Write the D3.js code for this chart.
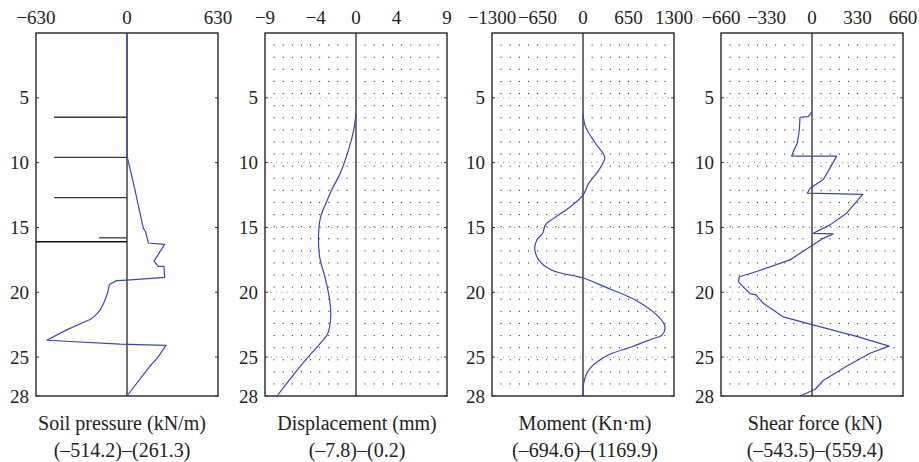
<!DOCTYPE html>
<html>
<head>
<meta charset="utf-8">
<script src="https://cdn.jsdelivr.net/npm/d3@7"></script>
<style>
  html, body { margin: 0; padding: 0; background: #fff; }
  svg { display: block; }
  text { font-family: "Liberation Serif", "DejaVu Serif", serif; fill: #222; }
</style>
</head>
<body>
<svg id="chart" width="919" height="462"></svg>
<script>
// ---------- DATA ----------
const depthTicks = [5, 10, 15, 20, 25, 28];

const soilTicks = [-630, 0, 630];
const soilDepth = [0, 9.5, 10.5, 12.1, 15.07, 15.33, 16.2, 16.3, 17.6, 18.0, 18.0, 18.85, 19.06, 19.1, 19.4, 20.1, 20.8, 21.4, 21.8, 22.1, 22.9, 23.7, 24.0, 24.1, 25.0, 25.7, 28];
const soilValue = [0, 0, 22, 55, 113, 129, 148, 261, 187, 217, 256, 261, 0, -71, -122, -136, -160, -187, -220, -256, -418, -555, -48, 270, 215, 159, 0];
const strutDepth = [6.5, 9.6, 12.7, 15.8];
const strutValue = [-505, -505, -505, -194];
const baseDepth = 16.1;

const dispTicks = [-9, -4, 0, 4, 9];
const dispDepth = [6.2, 7.5, 9.0, 10.8, 12.1, 13.0, 14.2, 15.45, 17.25, 19.05, 20.6, 21.9, 23.2, 23.9, 25.7, 28];
const dispValue = [0, -0.23, -0.73, -1.55, -2.4, -2.9, -3.5, -3.7, -3.6, -3.0, -2.6, -2.5, -2.8, -3.5, -5.5, -7.8];

const momTicks = [-1300, -650, 0, 650, 1300];
const momDepth = [6.2, 7.2, 8.5, 9.6, 10.6, 11.6, 12.5, 13.5, 14.3, 14.8, 15.45, 15.95, 16.6, 17.5, 18.3, 18.9, 19.6, 20.6, 21.9, 22.65, 23.3, 23.6, 24.2, 24.95, 26.0, 27.0, 28];
const momValue = [0, 34, 177, 310, 224, 81, 0, -204, -419, -537, -576, -657, -690, -633, -443, 0, 320, 749, 1081, 1170, 1129, 986, 700, 320, 81, 10, 0];

const shearTicks = [-660, -330, 0, 330, 660];
const shearDepth = [6.07, 6.45, 6.5, 7.5, 8.5, 9.15, 9.5, 9.5, 10.4, 11.3, 12.0, 12.35, 12.45, 13.9, 14.8, 15.45, 15.5, 15.9, 16.4, 17.5, 18.4, 18.8, 19.2, 20.1, 20.2, 20.85, 21.9, 22.5, 23.4, 24.15, 24.7, 25.7, 26.8, 27.5, 27.6, 28];
const shearValue = [0, -27, -87, -92, -107, -136, -147, 179, 131, 82, -15, -34, 368, 251, 131, 9, 154, 70, 0, -160, -401, -527, -534, -450, -406, -353, -208, 0, 324, 559, 421, 251, 82, 22, 0, -87];

const titles = ["Soil pressure (kN/m)", "Displacement (mm)", "Moment (Kn·m)", "Shear force (kN)"];
const ranges = ["(–514.2)–(261.3)", "(–7.8)–(0.2)", "(–694.6)–(1169.9)", "(–543.5)–(559.4)"];

// ---------- LAYOUT ----------
const svg = d3.select("#chart");
const plotTop = 33, plotBottom = 396, pw = 182;
const lefts = [36, 265, 492, 721];
const titleShift = [-5, 1, 2, 3];
const y = d3.scaleLinear().domain([0, 28]).range([plotTop, plotBottom]);
const blue = "#3a48a8";
const fs = 19;

const panels = [
  {ticks: soilTicks, depth: soilDepth, value: soilValue, dots: false, curve: d3.curveLinear},
  {ticks: dispTicks, depth: dispDepth, value: dispValue, dots: true, curve: d3.curveCatmullRom.alpha(0.5)},
  {ticks: momTicks, depth: momDepth, value: momValue, dots: true, curve: d3.curveCatmullRom.alpha(0.5)},
  {ticks: shearTicks, depth: shearDepth, value: shearValue, dots: true, curve: d3.curveLinear}
];

const fmt = v => (v < 0 ? "−" + Math.abs(v) : String(v));

panels.forEach((p, i) => {
  const L = lefts[i];
  const ext = p.ticks[p.ticks.length - 1];
  const x = d3.scaleLinear().domain([-ext, ext]).range([L, L + pw]);
  const g = svg.append("g");

  if (p.dots) {
    const dg = g.append("g");
    for (let c = 1; c < 20; c++) {
      if (c === 10) continue;
      for (let r = 1; r < 30; r++) {
        dg.append("rect")
          .attr("x", L + c * pw / 20 - 0.5)
          .attr("y", plotTop + r * (plotBottom - plotTop) / 30 - 0.5)
          .attr("width", 1.1).attr("height", 1.1)
          .attr("fill", "#333");
      }
    }
    depthTicks.slice(0, 5).forEach(d => {
      g.append("line")
        .attr("x1", L).attr("x2", L + pw)
        .attr("y1", y(d)).attr("y2", y(d))
        .attr("stroke", "#888").attr("stroke-width", 0.9)
        .attr("stroke-dasharray", "1,4.5");
    });
  }

  g.append("rect")
    .attr("x", L).attr("y", plotTop).attr("width", pw).attr("height", plotBottom - plotTop)
    .attr("fill", "none").attr("stroke", "#333").attr("stroke-width", 1.5);

  depthTicks.forEach(d => {
    g.append("line").attr("x1", L).attr("x2", L + 3).attr("y1", y(d)).attr("y2", y(d))
      .attr("stroke", "#333").attr("stroke-width", 1);
    g.append("line").attr("x1", L + pw - 3).attr("x2", L + pw).attr("y1", y(d)).attr("y2", y(d))
      .attr("stroke", "#333").attr("stroke-width", 1);
  });

  g.selectAll("text.yt").data(depthTicks).join("text")
    .attr("class", "yt")
    .attr("x", L - 7).attr("y", d => y(d)).attr("dy", "0.35em")
    .attr("text-anchor", "end").attr("font-size", fs)
    .text(d => d);

  g.selectAll("text.xt").data(p.ticks).join("text")
    .attr("class", "xt")
    .attr("x", d => x(d)).attr("y", 17).attr("dy", "0.35em")
    .attr("text-anchor", "middle").attr("font-size", fs)
    .text(fmt);

  g.append("line")
    .attr("x1", x(0)).attr("x2", x(0)).attr("y1", plotTop).attr("y2", plotBottom)
    .attr("stroke", "#111").attr("stroke-width", 1.2);

  if (i === 0) {
    strutDepth.forEach((d, k) => {
      g.append("line")
        .attr("x1", x(strutValue[k])).attr("x2", x(0))
        .attr("y1", y(d)).attr("y2", y(d))
        .attr("stroke", "#3a3a3a").attr("stroke-width", 1.3);
    });
    g.append("line")
      .attr("x1", x(-ext)).attr("x2", x(0))
      .attr("y1", y(baseDepth)).attr("y2", y(baseDepth))
      .attr("stroke", "#111").attr("stroke-width", 1.3);
  }

  const line = d3.line()
    .x((d, k) => x(p.value[k]))
    .y((d, k) => y(p.depth[k]))
    .curve(p.curve);
  g.append("path")
    .attr("d", line(p.depth))
    .attr("fill", "none").attr("stroke", blue).attr("stroke-width", 1.2)
    .attr("stroke-linejoin", "round");

  g.append("text")
    .attr("x", L + pw / 2 + titleShift[i]).attr("y", 423).attr("dy", "0.35em")
    .attr("text-anchor", "middle").attr("font-size", 20)
    .text(titles[i]);
  g.append("text")
    .attr("x", L + pw / 2 + titleShift[i]).attr("y", 450).attr("dy", "0.35em")
    .attr("text-anchor", "middle").attr("font-size", 20)
    .text(ranges[i]);
});
</script>
</body>
</html>
